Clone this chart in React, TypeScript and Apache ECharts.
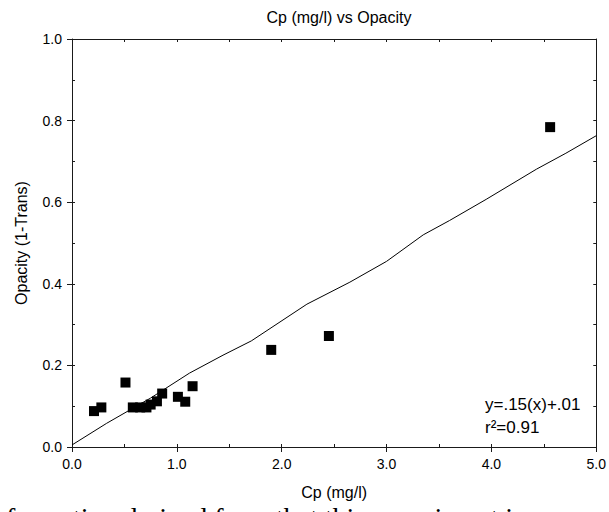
import React, { useEffect, useRef } from "react";
import * as echarts from "echarts";

const cpValues = [0.21, 0.28, 0.51, 0.58, 0.65, 0.71, 0.75, 0.81, 0.86, 1.01, 1.08, 1.15, 1.9, 2.45, 4.56];
const opacityValues = [0.088, 0.097, 0.158, 0.097, 0.097, 0.097, 0.104, 0.112, 0.131, 0.123, 0.111, 0.149, 0.238, 0.272, 0.784];

const fitX = [0, 0.33, 0.75, 1.12, 1.44, 1.71, 2.24, 2.65, 3.0, 3.35, 3.6, 3.95, 4.43, 4.71, 5.0];
const fitY = [0.005, 0.058, 0.12, 0.181, 0.225, 0.26, 0.35, 0.404, 0.455, 0.52, 0.555, 0.607, 0.681, 0.72, 0.763];

const titleText = "Cp (mg/l) vs Opacity";
const xName = "Cp (mg/l)";
const yName = "Opacity (1-Trans)";
const equationText = "y=.15(x)+.01";
const r2Text = "r\u00B2=0.91";
const footerText = "formation derived from that this experiment i";

export default function App() {
  const ref = useRef<HTMLDivElement>(null);
  useEffect(() => {
    if (!ref.current) return;
    const chart = echarts.init(ref.current, null, { renderer: "svg" });
    const font = "'Liberation Sans', Arial, sans-serif";
    const lineColor = "#1a1a1a";
    const noSplit = { show: false };
    chart.setOption({
      animation: false,
      backgroundColor: "#fff",
      title: {
        text: titleText,
        left: 334,
        top: 4,
        textAlign: "center",
        textStyle: { fontSize: 16, fontWeight: "normal", color: "#000", fontFamily: font },
      },
      grid: { left: 72, right: 12, top: 39, bottom: 65, containLabel: false },
      xAxis: [
        {
          type: "value",
          position: "bottom",
          min: 0,
          max: 5,
          interval: 1,
          axisLine: { show: true, onZero: false, lineStyle: { color: lineColor, width: 1 } },
          axisTick: { show: true, inside: false, length: 5, lineStyle: { color: lineColor } },
          axisLabel: { formatter: (v: number) => v.toFixed(1), fontSize: 14, color: "#000", margin: 10, fontFamily: font },
          splitLine: noSplit,
          name: xName,
          nameLocation: "middle",
          nameGap: 37,
          nameTextStyle: { fontSize: 16, color: "#000", fontFamily: font },
        },
        {
          type: "value",
          position: "bottom",
          min: 0,
          max: 5,
          interval: 0.5,
          axisLine: { show: false, onZero: false },
          axisTick: { show: true, inside: true, length: 3, lineStyle: { color: lineColor } },
          axisLabel: { show: false },
          splitLine: noSplit,
        },
        {
          type: "value",
          position: "top",
          min: 0,
          max: 5,
          interval: 0.5,
          axisLine: { show: true, onZero: false, lineStyle: { color: lineColor, width: 1 } },
          axisTick: { show: true, inside: true, length: 3, lineStyle: { color: lineColor } },
          axisLabel: { show: false },
          splitLine: noSplit,
        },
      ],
      yAxis: [
        {
          type: "value",
          position: "left",
          min: 0,
          max: 1,
          interval: 0.2,
          axisLine: { show: true, onZero: false, lineStyle: { color: lineColor, width: 1 } },
          axisTick: { show: true, inside: false, length: 5, lineStyle: { color: lineColor } },
          axisLabel: { formatter: (v: number) => v.toFixed(1), fontSize: 14, color: "#000", margin: 10, fontFamily: font },
          splitLine: noSplit,
          name: yName,
          nameLocation: "middle",
          nameGap: 43,
          nameTextStyle: { fontSize: 16, color: "#000", fontFamily: font },
        },
        {
          type: "value",
          position: "left",
          min: 0,
          max: 1,
          interval: 0.1,
          axisLine: { show: false, onZero: false },
          axisTick: { show: true, inside: true, length: 3, lineStyle: { color: lineColor } },
          axisLabel: { show: false },
          splitLine: noSplit,
        },
        {
          type: "value",
          position: "right",
          min: 0,
          max: 1,
          interval: 0.1,
          axisLine: { show: true, onZero: false, lineStyle: { color: lineColor, width: 1 } },
          axisTick: { show: true, inside: true, length: 3, lineStyle: { color: lineColor } },
          axisLabel: { show: false },
          splitLine: noSplit,
        },
      ],
      series: [
        {
          type: "line",
          xAxisIndex: 0,
          yAxisIndex: 0,
          data: fitX.map((x, i) => [x, fitY[i]]),
          showSymbol: false,
          symbol: "none",
          lineStyle: { color: "#000", width: 1 },
          z: 2,
        },
        {
          type: "scatter",
          xAxisIndex: 0,
          yAxisIndex: 0,
          data: cpValues.map((x, i) => [x, opacityValues[i]]),
          symbol: "rect",
          symbolSize: 10,
          itemStyle: { color: "#000", opacity: 1 },
          z: 3,
        },
      ],
      graphic: [
        {
          type: "text",
          left: 485,
          top: 396,
          style: { text: equationText, fontSize: 17, fill: "#000", fontFamily: font },
        },
        {
          type: "text",
          left: 485,
          top: 419,
          style: { text: r2Text, fontSize: 17, fill: "#000", fontFamily: font },
        },
        {
          type: "text",
          left: 6,
          top: 503,
          style: { text: footerText, fontSize: 28, fill: "#000", fontFamily: "'Liberation Serif', 'Times New Roman', serif" },
        },
      ],
    });
    return () => chart.dispose();
  }, []);
  return (
    <div
      ref={ref}
      style={{ position: "fixed", left: 0, top: 0, width: 609, height: 512, background: "#fff" }}
    />
  );
}
